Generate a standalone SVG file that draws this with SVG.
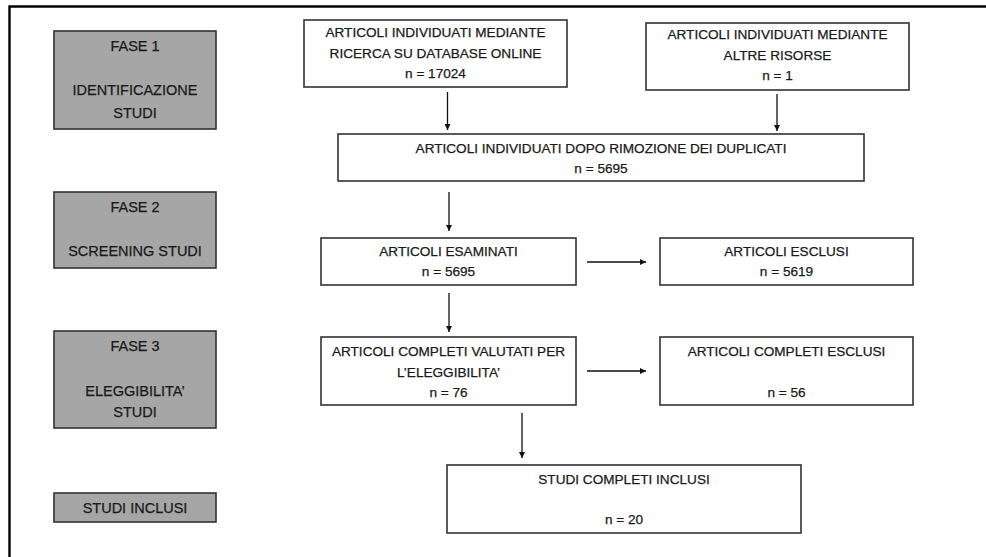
<svg xmlns="http://www.w3.org/2000/svg" width="986" height="557" viewBox="0 0 986 557">
<defs>
<marker id="ah" viewBox="0 0 10 10" refX="10" refY="5" markerWidth="6" markerHeight="6" markerUnits="userSpaceOnUse" orient="auto">
<path d="M0,0 L10,5 L0,10 z" fill="#111"/>
</marker>
<style>
.frame{fill:none;stroke:#000;stroke-width:2.4}
.g{fill:#a6a6a6;stroke:#333;stroke-width:1.6}
.w{fill:#fff;stroke:#333;stroke-width:1.6}
.tg{font-family:"Liberation Sans",Arial,sans-serif;font-size:14.5px;fill:#1a1a1a;stroke:#1a1a1a;stroke-width:0.25;text-anchor:middle}
.tw{font-family:"Liberation Sans",Arial,sans-serif;font-size:13.6px;fill:#1a1a1a;stroke:#1a1a1a;stroke-width:0.25;text-anchor:middle}
.c{fill:none;stroke:#111;stroke-width:1.3;marker-end:url(#ah)}
</style>
</defs>
<rect width="986" height="557" fill="#fff"/>
<path class="frame" d="M9.5,557 V6.5 H986"/>

<g id="fase1"><rect class="g" x="54" y="31" width="162" height="98"/>
<text class="tg" x="135" y="51">FASE 1</text><text class="tg" x="135" y="95">IDENTIFICAZIONE</text><text class="tg" x="135" y="118">STUDI</text></g>
<g id="fase2"><rect class="g" x="54" y="192" width="162" height="76"/>
<text class="tg" x="135" y="212">FASE 2</text><text class="tg" x="135" y="256">SCREENING STUDI</text></g>
<g id="fase3"><rect class="g" x="54" y="331" width="162" height="97"/>
<text class="tg" x="135" y="351">FASE 3</text><text class="tg" x="135" y="396">ELEGGIBILITA’</text><text class="tg" x="135" y="417">STUDI</text></g>
<g id="inclusi"><rect class="g" x="54" y="493" width="162" height="29"/>
<text class="tg" x="135" y="513">STUDI INCLUSI</text></g>

<g id="database"><rect class="w" x="304" y="20" width="263" height="67"/>
<text class="tw" x="435.5" y="37">ARTICOLI INDIVIDUATI MEDIANTE</text><text class="tw" x="435.5" y="58">RICERCA SU DATABASE ONLINE</text><text class="tw" x="435.5" y="78">n = 17024</text></g>
<g id="altre"><rect class="w" x="646" y="23" width="263" height="67"/>
<text class="tw" x="777.5" y="39">ARTICOLI INDIVIDUATI MEDIANTE</text><text class="tw" x="777.5" y="60">ALTRE RISORSE</text><text class="tw" x="777.5" y="80">n = 1</text></g>
<g id="duplicati"><rect class="w" x="338" y="134" width="526" height="47"/>
<text class="tw" x="601" y="153">ARTICOLI INDIVIDUATI DOPO RIMOZIONE DEI DUPLICATI</text><text class="tw" x="601" y="173">n = 5695</text></g>
<g id="esaminati"><rect class="w" x="321" y="238" width="255" height="47"/>
<text class="tw" x="448.5" y="256">ARTICOLI ESAMINATI</text><text class="tw" x="448.5" y="276">n = 5695</text></g>
<g id="esclusi"><rect class="w" x="660" y="238" width="253" height="47"/>
<text class="tw" x="786.5" y="256">ARTICOLI ESCLUSI</text><text class="tw" x="786.5" y="276">n = 5619</text></g>
<g id="valutati"><rect class="w" x="321" y="337" width="255" height="68"/>
<text class="tw" x="448.5" y="356">ARTICOLI COMPLETI VALUTATI PER</text><text class="tw" x="448.5" y="377">L’ELEGGIBILITA’</text><text class="tw" x="448.5" y="397">n = 76</text></g>
<g id="completi-esclusi"><rect class="w" x="660" y="337" width="253" height="68"/>
<text class="tw" x="786.5" y="356">ARTICOLI COMPLETI ESCLUSI</text><text class="tw" x="786.5" y="397">n = 56</text></g>
<g id="studi-inclusi"><rect class="w" x="447" y="465" width="354" height="68"/>
<text class="tw" x="624" y="484">STUDI COMPLETI INCLUSI</text><text class="tw" x="624" y="524">n = 20</text></g>

<g id="connectors">
<line class="c" x1="447.5" y1="92" x2="447.5" y2="130"/>
<line class="c" x1="777" y1="94" x2="777" y2="131"/>
<line class="c" x1="449" y1="192" x2="449" y2="231"/>
<line class="c" x1="587" y1="262" x2="646" y2="262"/>
<line class="c" x1="449" y1="293" x2="449" y2="332"/>
<line class="c" x1="587" y1="371" x2="646" y2="371"/>
<line class="c" x1="522" y1="413" x2="522" y2="458"/>
</g>
</svg>
